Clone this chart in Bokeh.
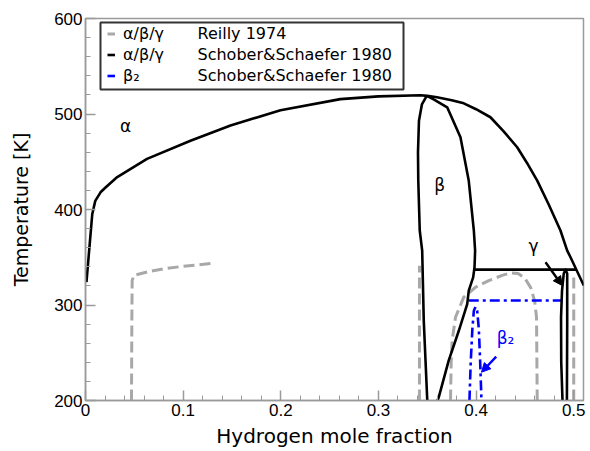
from bokeh.plotting import figure
from bokeh.models import (FixedTicker, Legend, LegendItem, Label, BoxAnnotation,
                          Arrow, NormalHead, Range1d)
from bokeh.core.properties import value
from bokeh.embed import file_html
from bokeh.resources import INLINE

# ---------------- data ----------------
# Schober & Schaefer 1980 (black, solid)
alpha_x = [0.001, 0.0069, 0.010, 0.0154, 0.0205, 0.0325, 0.063, 0.1075, 0.1485, 0.1997,
           0.261, 0.300, 0.343, 0.350, 0.360, 0.375, 0.3874, 0.400, 0.4147, 0.428,
           0.4421, 0.452, 0.4626, 0.4745, 0.4864, 0.4933, 0.4967, 0.5103]
alpha_T = [324, 395, 409, 418, 423, 434, 453, 472, 488, 504,
           515.6, 518.5, 519.6, 519, 517.5, 514.5, 511.2, 505, 496.6, 482,
           465.2, 449, 430.3, 405, 378, 357, 350, 320.4]

beta_l_x = [0.3495, 0.3445, 0.3415, 0.3405, 0.3408, 0.3423, 0.3448, 0.3464, 0.3500]
beta_l_T = [519, 510, 493, 460, 430, 378, 357, 284, 200]

beta_r_x = [0.3495, 0.357, 0.3704, 0.384, 0.3925, 0.3977, 0.399, 0.3984, 0.397,
            0.3925, 0.3909, 0.3823, 0.372, 0.3618, 0.3605]
beta_r_T = [519, 515, 507, 475.7, 430, 378, 357, 339.6, 329,
            315, 301, 273, 242, 203.5, 200]

eut_x = [0.3984, 0.5025]
eut_T = [337, 337]

gamma_x = [0.4885, 0.4872, 0.4870, 0.4880, 0.4898, 0.4915, 0.4933, 0.4933, 0.4930]
gamma_T = [200, 240, 287, 315, 333, 337, 333, 280, 200]

# Reilly 1974 (grey, dashed)
re_a_x = [0.0471, 0.0475, 0.0478, 0.0495, 0.065, 0.0802, 0.100, 0.1314]
re_a_T = [200, 290, 325.6, 331, 335, 338, 340.5, 343.8]

re_b_x = [0.342, 0.342]
re_b_T = [200, 341]

re_dome_x = [0.3738, 0.3745, 0.3755, 0.3789, 0.3874, 0.3994, 0.4130, 0.4267, 0.4350,
             0.4430, 0.4500, 0.4560, 0.4600, 0.4619, 0.4626]
re_dome_T = [200, 240, 262.8, 287.2, 308.2, 318.6, 325.6, 331, 333.5,
             333, 328, 318, 304, 287, 200]

re_g_x = [0.500, 0.500]
re_g_T = [200, 333]

# Schober & Schaefer 1980 beta2 (blue, dash-dot)
b2_h_x = [0.3925, 0.4871]
b2_h_T = [304.7, 304.7]

b2_loop_x = [0.3932, 0.3945, 0.3962, 0.3977, 0.3994, 0.4011, 0.4028, 0.4042, 0.4055]
b2_loop_T = [200, 240, 275, 294, 298, 294, 275, 240, 200]

# phase labels
phase_text = ["α", "β", "γ"]
phase_x = [0.041, 0.3628, 0.4588]
phase_T = [487, 426, 362]

b2_text = ["β₂"]
b2_x = [0.4301]
b2_T = [265]

# arrows (start x, start T, end x, end T)
gamma_arrow = [0.4711, 344.8, 0.4882, 320.4]
b2_arrow = [0.4206, 246, 0.4055, 229.6]

# legend texts
legend_phase = ["α/β/γ", "α/β/γ", "β₂"]
legend_source = ["Reilly 1974", "Schober&Schaefer 1980", "Schober&Schaefer 1980"]

# axes
x_ticks = [0, 0.1, 0.2, 0.3, 0.4, 0.5]
x_tick_labels = ["0", "0.1", "0.2", "0.3", "0.4", "0.5"]
x_minor = [0.02, 0.04, 0.06, 0.08, 0.12, 0.14, 0.16, 0.18, 0.22, 0.24, 0.26, 0.28,
           0.32, 0.34, 0.36, 0.38, 0.42, 0.44, 0.46, 0.48]
y_ticks = [200, 300, 400, 500, 600]
y_tick_labels = ["200", "300", "400", "500", "600"]
y_minor = [220, 240, 260, 280, 320, 340, 360, 380, 420, 440, 460, 480, 520, 540, 560, 580]

# ---------------- figure ----------------
GREY = "#a8a8a8"
AXC = "#9a9a9a"

p = figure(frame_width=498, frame_height=382,
           min_border_left=85, min_border_right=7, min_border_top=18, min_border_bottom=50,
           x_range=Range1d(0, 0.51), y_range=Range1d(200, 600),
           output_backend="svg", toolbar_location=None,
           background_fill_color="white", border_fill_color="white")

p.xgrid.visible = False
p.ygrid.visible = False
p.outline_line_color = AXC
p.outline_line_width = 1.5

for ax, ticks, minor, labels in ((p.xaxis[0], x_ticks, x_minor, x_tick_labels),
                                 (p.yaxis[0], y_ticks, y_minor, y_tick_labels)):
    ax.ticker = FixedTicker(ticks=ticks, minor_ticks=minor)
    ax.major_label_overrides = dict(zip(ticks, labels))
    ax.axis_line_color = AXC
    ax.axis_line_width = 1.5
    ax.major_tick_line_color = AXC
    ax.minor_tick_line_color = AXC
    ax.major_tick_line_width = 1.5
    ax.minor_tick_line_width = 1
    ax.major_tick_in = 10
    ax.major_tick_out = 0
    ax.minor_tick_in = 5
    ax.minor_tick_out = 0
    ax.major_label_text_font = "Liberation Sans"
    ax.major_label_text_font_size = "17px"
    ax.major_label_text_color = "black"
    ax.axis_label_text_font = "DejaVu Sans"
    ax.axis_label_text_font_style = "normal"
    ax.axis_label_text_color = "black"

p.xaxis.axis_label = "Hydrogen mole fraction"
p.yaxis.axis_label = "Temperature [K]"
p.xaxis.axis_label_text_font_size = "20px"
p.yaxis.axis_label_text_font_size = "19px"
p.xaxis.major_label_standoff = 3
p.xaxis.axis_label_standoff = 5
p.yaxis.major_label_standoff = 3
p.yaxis.axis_label_standoff = 19

# grey dashed (Reilly 1974)
gkw = dict(line_color=GREY, line_width=3, line_dash="11 5")
r_grey = p.line(re_a_x, re_a_T, **gkw)
p.line(re_b_x, re_b_T, **gkw)
p.line(re_dome_x, re_dome_T, **gkw)
p.line(re_g_x, re_g_T, **gkw)

# blue dash-dot (beta2)
bkw = dict(line_color="#0000ff", line_width=2.6, line_dash="10 4 3 4")
r_blue = p.line(b2_h_x, b2_h_T, **bkw)
p.line(b2_loop_x, b2_loop_T, **bkw)

# black solid (Schober & Schaefer)
kkw = dict(line_color="black", line_width=2.6, line_join="round")
r_black = p.line(alpha_x, alpha_T, **kkw)
p.line(beta_l_x, beta_l_T, **kkw)
p.line(beta_r_x, beta_r_T, **kkw)
p.line(eut_x, eut_T, **kkw)
p.line(gamma_x, gamma_T, **kkw)

# phase labels
p.text(x=phase_x, y=phase_T, text=phase_text, text_font=value("DejaVu Sans"),
       text_font_size="17px", text_color="black", text_align="center",
       text_baseline="middle")
p.text(x=b2_x, y=b2_T, text=b2_text, text_font=value("DejaVu Sans"),
       text_font_size="17px", text_color="#0000ff", text_align="center",
       text_baseline="middle")

# arrows
p.add_layout(Arrow(end=NormalHead(size=9, fill_color="black", line_color="black", line_width=1),
                   x_start=gamma_arrow[0], y_start=gamma_arrow[1],
                   x_end=gamma_arrow[2], y_end=gamma_arrow[3],
                   line_color="black", line_width=2.4))
p.add_layout(Arrow(end=NormalHead(size=9, fill_color="#0000ff", line_color="#0000ff", line_width=1),
                   x_start=b2_arrow[0], y_start=b2_arrow[1],
                   x_end=b2_arrow[2], y_end=b2_arrow[3],
                   line_color="#0000ff", line_width=2.4))

# legend box
box = BoxAnnotation(left=15, right=318, top=378, bottom=311,
                    left_units="screen", right_units="screen",
                    top_units="screen", bottom_units="screen",
                    fill_color="white", fill_alpha=1.0,
                    line_color="#333333", line_width=2, line_alpha=1.0)
p.add_layout(box)

legend = Legend(items=[LegendItem(label=legend_phase[0], renderers=[r_grey]),
                       LegendItem(label=legend_phase[1], renderers=[r_black]),
                       LegendItem(label=legend_phase[2], renderers=[r_blue])],
                location=(22, 314), margin=0, padding=0, spacing=0,
                glyph_width=8, glyph_height=21, label_height=21, label_standoff=8,
                border_line_color=None, background_fill_alpha=0,
                label_text_font="DejaVu Sans", label_text_font_size="16px",
                label_text_color="black")
p.add_layout(legend)

row_y = [367, 346, 325]
for src, yy in zip(legend_source, row_y):
    p.add_layout(Label(x=112, y=yy, x_units="screen", y_units="screen", text=src,
                       text_font="DejaVu Sans", text_font_size="16px",
                       text_color="black", text_baseline="middle"))

open("out.html", "w").write(file_html(p, INLINE))
